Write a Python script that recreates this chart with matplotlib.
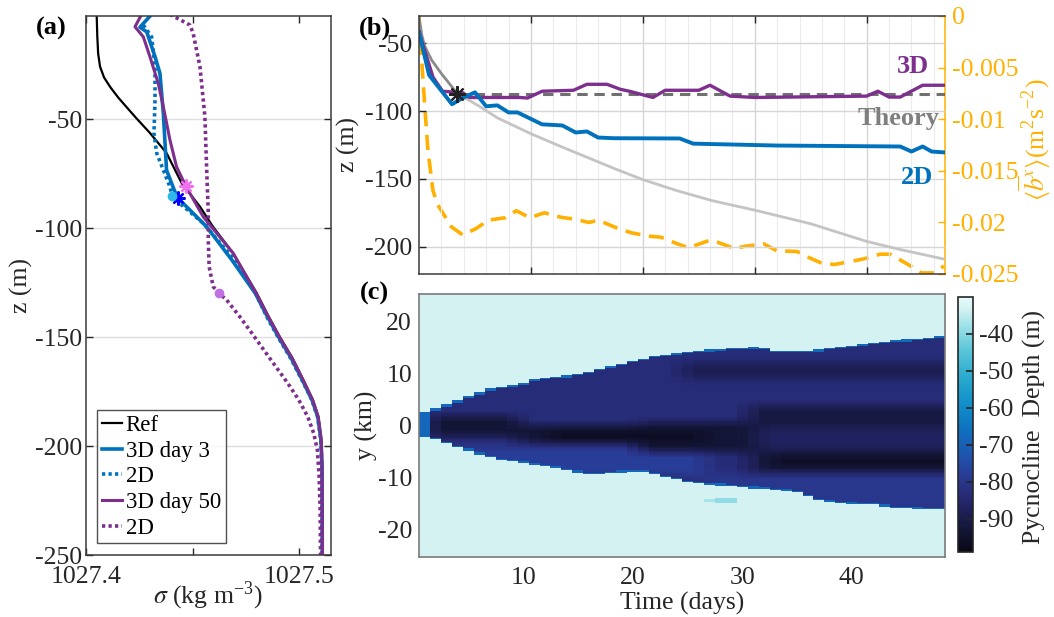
import numpy as np
import matplotlib
matplotlib.use("Agg")
import matplotlib.pyplot as plt
from matplotlib.colors import LinearSegmentedColormap, Normalize

plt.rcParams["font.family"] = ["Liberation Serif", "DejaVu Serif"]
plt.rcParams["mathtext.fontset"] = "stix"
plt.rcParams["axes.unicode_minus"] = False
FS = 18.5

# ---------------- panel (a): density profiles ----------------
sigma_ref = [1027.4050, 1027.4053, 1027.4057, 1027.4066, 1027.4085, 1027.4115, 1027.4150,
             1027.4190, 1027.4235, 1027.4300, 1027.4378, 1027.4449, 1027.4535, 1027.4596,
             1027.4690, 1027.4801, 1027.4854, 1027.4910, 1027.4971, 1027.5022, 1027.5065,
             1027.5090, 1027.5104, 1027.5108, 1027.5110]
z_ref = [-2.0, -12.0, -20.0, -26.0, -31.0, -35.5, -40.0, -44.5, -49.5, -56.4, -65.6, -79.4,
         -90.2, -99.4, -111.5, -129.8, -140.0, -150.0, -160.0, -170.0, -178.9, -186.6, -197.2,
         -209.5, -250.0]

sigma_3d_day3 = [1027.4308, 1027.4253, 1027.4285, 1027.4324, 1027.4347, 1027.4363, 1027.4378,
                 1027.4417, 1027.4441, 1027.4566, 1027.4685, 1027.4795, 1027.4848, 1027.4904,
                 1027.4965, 1027.5017, 1027.5061, 1027.5088, 1027.5103, 1027.5108, 1027.5109]
z_3d_day3 = [-2.0, -7.9, -10.0, -21.4, -29.0, -47.4, -73.4, -83.3, -87.2, -99.4, -114.7, -130.0,
             -140.0, -150.0, -160.0, -170.0, -178.9, -186.6, -197.2, -209.5, -250.0]

sigma_2d_day3 = [1027.4269, 1027.4308, 1027.4324, 1027.4324, 1027.4319, 1027.4332, 1027.4363,
                 1027.4394, 1027.4405, 1027.4449, 1027.4550, 1027.4685, 1027.4792, 1027.4845,
                 1027.4901, 1027.4962, 1027.5015, 1027.5060, 1027.5087, 1027.5102, 1027.5107,
                 1027.5108]
z_2d_day3 = [-6.9, -12.3, -26.0, -41.3, -56.6, -65.7, -73.4, -81.1, -85.3, -89.4, -97.8, -113.2,
             -129.2, -140.0, -150.0, -160.0, -170.0, -178.9, -186.6, -197.2, -209.5, -250.0]

sigma_3d_day50 = [1027.4261, 1027.4230, 1027.4269, 1027.4300, 1027.4339, 1027.4363, 1027.4394,
                  1027.4425, 1027.4468, 1027.4550, 1027.4691, 1027.4799, 1027.4852, 1027.4908,
                  1027.4969, 1027.5020, 1027.5064, 1027.5090, 1027.5104, 1027.5108, 1027.5110]
z_3d_day50 = [-2.0, -7.7, -12.3, -21.4, -33.6, -44.4, -59.6, -71.9, -80.7, -94.8, -111.6, -130.0,
              -140.0, -150.0, -160.0, -170.0, -178.9, -186.6, -197.2, -209.5, -250.0]

sigma_2d_day50 = [1027.4394, 1027.4488, 1027.4503, 1027.4535, 1027.4558, 1027.4566, 1027.4574,
                  1027.4574, 1027.4578, 1027.4597, 1027.4625, 1027.4660, 1027.4722, 1027.4779,
                  1027.4835, 1027.4891, 1027.4947, 1027.4999, 1027.5041, 1027.5069, 1027.5086,
                  1027.5094, 1027.5099, 1027.5101]
z_2d_day50 = [-2.0, -6.9, -10.7, -26.0, -48.9, -71.9, -93.3, -105.5, -117.8, -126.9, -130.0,
              -133.0, -140.7, -148.3, -156.0, -163.6, -171.2, -178.9, -186.6, -194.2, -201.8,
              -213.3, -229.4, -250.0]

pyc_3d_day3 = (1027.4433, -86.4)
pyc_2d_day3 = (1027.4405, -85.3)
pyc_3d_day50 = (1027.4468, -80.7)
pyc_2d_day50 = (1027.4625, -130.0)
legend_labels = ["Ref", "3D day 3", "2D", "3D day 50", "2D"]
sigma_ticks = [1027.4, 1027.45, 1027.5]
sigma_ticklabels = ["1027.4", "", "1027.5"]
za_ticks = [-250, -200, -150, -100, -50]

# ---------------- panel (b): pycnocline depth vs time ----------------
t_3d = [0, 1.25, 2.1, 3.9, 4.5, 9.0, 9.7, 11.0, 13.8, 15.0, 16.8, 18.0, 18.8, 20.9, 22.0, 25.0,
        26.0, 27.8, 30.0, 40.0, 41.0, 42.0, 43.0, 45.0, 47.0]
z_3d = [-42, -75, -85.4, -86.5, -90, -90, -90.4, -85.4, -84.7, -80.3, -80.3, -84, -85.4, -90,
        -84.7, -84.7, -81, -89, -90, -89, -85.4, -89.7, -89.7, -81, -81]

t_2d = [0, 0.9, 2.95, 3.9, 5.0, 6.0, 7.0, 8.0, 8.8, 11.0, 12.8, 14.0, 15.0, 16.0, 17.4, 23.3,
        24.5, 32.0, 43.0, 44.0, 45.0, 45.8, 47.0]
z_2d = [-42, -73.5, -95, -90.4, -86.2, -96.5, -95.8, -101, -101, -109.8, -110.6, -115.8, -115,
        -119.5, -120, -120.2, -124, -125.4, -126.1, -129.8, -126.1, -129.8, -130.5]

t_theory = [0, 0.25, 0.5, 1.13, 2.0, 3.42, 5.4, 7.0, 10.0, 12.5, 15.0, 17.5, 20.0, 23.0, 26.2,
            30.0, 32.0, 35.0, 40.0, 43.0, 46.9]
z_theory = [-30.7, -44, -52, -62.5, -72.4, -87.1, -96.5, -105, -116.7, -125.5, -134, -142.5,
            -150.5, -158.5, -166, -173, -177, -183, -196, -202, -209]
t_star = 3.42
z_star = -87.1
z_equilibrium = -87.1

t_b = [0, 0.24, 0.54, 0.8, 1.25, 1.67, 2.9, 3.9, 5.1, 6.2, 7.7, 8.7, 9.9, 11.2, 12.7, 13.9, 15.2,
       16.0, 17.8, 19.0, 20.5, 21.6, 23.1, 24.1, 25.9, 26.7, 28.2, 29.1, 30.8, 32.0, 33.8, 34.5,
       35.9, 37.1, 38.8, 39.8, 41.2, 42.1, 43.7, 44.9, 46.1, 46.9]
b_x = [0, -0.00428, -0.00914, -0.01304, -0.01693, -0.01829, -0.02043, -0.02121, -0.02060,
       -0.01978, -0.01955, -0.01887, -0.01955, -0.01907, -0.01951, -0.01968, -0.02001, -0.01978,
       -0.02060, -0.02101, -0.02133, -0.02143, -0.02208, -0.02246, -0.02176, -0.02193, -0.02253,
       -0.02232, -0.02208, -0.02276, -0.02282, -0.02325, -0.02391, -0.02408, -0.02374, -0.02352,
       -0.02308, -0.02308, -0.02408, -0.02490, -0.02490, -0.02422]
zb_ticks = [-200, -150, -100, -50]
b_ticks = [-0.025, -0.02, -0.015, -0.01, -0.005, 0]
b_ticklabels = ["-0.025", "-0.02", "-0.015", "-0.01", "-0.005", "0"]

# ---------------- panel (c): pycnocline depth map ----------------
days_c = list(range(1, 49))
edge_upper = [2.5, 3.3, 4.0, 4.8, 5.6, 6.3, 7.0, 7.4, 7.8, 8.2, 8.8, 9.2, 9.4, 9.5, 9.9, 10.4,
              10.9, 11.4, 11.9, 12.4, 12.9, 13.3, 13.6, 13.9, 14.1, 14.3, 14.5, 14.7, 14.8, 14.9,
              15.0, 14.8, 14.4, 14.3, 14.3, 14.4, 14.5, 14.8, 15.1, 15.4, 15.7, 15.9, 16.1, 16.3,
              16.5, 16.7, 16.9, 17.1]
edge_lower = [-2.0, -2.6, -3.4, -4.1, -4.8, -5.5, -6.1, -6.6, -6.9, -7.2, -7.5, -7.9, -8.2, -8.6,
              -9.0, -9.4, -9.4, -9.2, -9.0, -8.8, -8.9, -9.3, -9.8, -10.3, -10.8, -11.1, -11.3,
              -11.5, -11.7, -11.8, -12.0, -12.1, -12.3, -12.5, -12.8, -13.6, -14.3, -14.7, -14.9,
              -15.0, -15.1, -15.2, -15.5, -15.8, -15.9, -16.0, -16.1, -16.2]
depth_background = -33.0
depth_wedge = -83.0
depth_fringe = -68.0
# (day start, day end, y low, y high, depth) inside the cold wedge
interior_patches = [
    (4, 26, -9.5, -4.2, -78),
    (27, 48, -16, -9.5, -80),
    (1.5, 9.5, -2.0, 1.8, -93),
    (9.5, 20.5, -3.4, 0.0, -93),
    (20.5, 30.5, -5.0, 0.6, -93),
    (30.5, 48.5, -9.0, 3.8, -91),
    (32, 48.5, -4.5, -0.5, -87),
    (13, 26, -3.0, -1.2, -97),
    (33, 48.5, -8.2, -5.6, -96),
    (24.5, 48.5, 8.8, 12.0, -89),
]
exterior_patches = [
    (27, 28, -14.6, -14.2, -37),
    (28, 29, -14.8, -14.0, -39),
]
cb_ticks = [-90, -80, -70, -60, -50, -40]
depth_range = (-99.0, -30.0)

# ice-like colormap nodes (depth, rgb)
cmap_depths = [-99, -93, -88, -83, -78, -72, -66, -60, -52, -44, -37, -33, -30]
cmap_rgb = [(8, 8, 22), (20, 22, 55), (30, 32, 88), (40, 45, 122), (40, 62, 152), (28, 88, 178),
            (15, 112, 192), (15, 138, 200), (40, 168, 206), (92, 198, 216), (165, 228, 234),
            (213, 242, 243), (230, 250, 250)]

# ---------------- styles ----------------
c_blue = "#0072BD"
c_purple = "#7E2F8E"
c_orange = "#FFB000"
c_axis = "#262626"

fig = plt.figure(figsize=(10.54, 6.17), dpi=100)
W, H = 1054.0, 617.0


def rect(x0, y0, x1, y1):
    return [x0 / W, 1 - y1 / H, (x1 - x0) / W, (y1 - y0) / H]


# ================= panel (a) =================
axa = fig.add_axes(rect(86, 16, 331, 555))
axa.plot(sigma_ref, z_ref, color="k", lw=1.6, label=legend_labels[0])
axa.plot(sigma_3d_day3, z_3d_day3, color=c_blue, lw=2.6, label=legend_labels[1])
axa.plot(sigma_2d_day3, z_2d_day3, color=c_blue, lw=2.6, ls=(0, (0.9, 0.9)), label=legend_labels[2])
axa.plot(sigma_3d_day50, z_3d_day50, color=c_purple, lw=2.2, label=legend_labels[3])
axa.plot(sigma_2d_day50, z_2d_day50, color=c_purple, lw=2.6, ls=(0, (0.9, 0.9)), label=legend_labels[4])
ast = (8, 2, 0)
axa.plot(*pyc_3d_day3, marker=ast, ms=10, mew=1.6, color="#0000FF", ls="none")
axa.plot(*pyc_2d_day3, marker="o", ms=6, color="#2FB8E8", mec="#2FB8E8", ls="none")
axa.plot(*pyc_3d_day50, marker=ast, ms=10, mew=1.6, color="#F070F0", ls="none")
axa.plot(*pyc_2d_day50, marker="o", ms=6, color="#C070E0", mec="#C070E0", ls="none")
axa.set_xlim(1027.4, 1027.515)
axa.set_ylim(-250, -2.75)
axa.set_xticks(sigma_ticks)
axa.set_xticklabels(sigma_ticklabels)
axa.set_yticks(za_ticks)
axa.grid(axis="y", color="#dedede", lw=1.0)
axa.set_axisbelow(True)
axa.tick_params(direction="in", length=5, width=1, colors=c_axis, labelsize=FS,
                top=True, right=True)
axa.tick_params(axis="x", pad=8)
axa.tick_params(axis="y", pad=3)
for s in axa.spines.values():
    s.set_color("#3a3a3a")
    s.set_linewidth(1.1)
axa.set_ylabel("z (m)", fontsize=FS, color=c_axis, va="center", ha="center")
axa.yaxis.set_label_coords(-0.265, 0.5)
axa.set_xlabel(r"$\sigma$ (kg m$^{\mathregular{-3}}$)", fontsize=FS, color=c_axis,
               va="center", ha="center")
axa.xaxis.set_label_coords(0.5, -0.076)
leg = axa.legend(loc="lower left", bbox_to_anchor=(0.045, 0.022), borderaxespad=0,
                 fontsize=16.5, handlelength=0.9, handletextpad=0.15, labelspacing=0.2,
                 borderpad=0.2, frameon=True, fancybox=False)
leg.get_frame().set_edgecolor(c_axis)
leg.get_frame().set_linewidth(1.0)

# ================= panel (b) =================
axb = fig.add_axes(rect(419, 16, 945, 274))
axb2 = axb.twinx()
axb2.plot(t_b, b_x, color=c_orange, lw=2.6, ls=(0, (4.2, 2.4)))
axb2.set_ylim(-0.025, 0)
axb2.set_yticks(b_ticks)
axb2.set_yticklabels(b_ticklabels)
axb2.tick_params(direction="in", length=5, width=1, colors=c_orange, labelsize=FS, pad=5)
axb2.spines["right"].set_color(c_orange)
axb2.spines["right"].set_linewidth(1.1)
for k in ("left", "top", "bottom"):
    axb2.spines[k].set_visible(False)
axb2.set_ylabel(r"$\langle\overline{b}^{x}\rangle$(m$^{\mathregular{2}}$s$^{\mathregular{-2}}$)",
                fontsize=FS, color=c_orange, va="center", ha="center")
axb2.yaxis.set_label_coords(1.17, 0.52)

axb.set_zorder(axb2.get_zorder() + 1)
axb.patch.set_visible(False)
t_th = np.array(t_theory)
z_th = np.array(z_theory)
early = t_th <= t_star
late = t_th >= t_star
axb.plot(t_th[late], z_th[late], color="#C4C4C4", lw=2.0)
axb.plot(t_th[early], z_th[early], color="#8A8A8A", lw=2.0)
axb.plot([t_star, 47], [z_equilibrium, z_equilibrium], color="#707070", lw=2.2, ls=(0, (3.4, 2.2)))
axb.plot(t_3d, z_3d, color=c_purple, lw=2.4)
axb.plot(t_2d, z_2d, color=c_blue, lw=2.8)
axb.plot(t_star, z_star, marker=ast, ms=12, mew=1.5, color="#222222", ls="none")
axb.text(45.6, -72.0, "3D", color=c_purple, fontsize=19, fontweight="bold", ha="right", va="baseline")
axb.text(46.5, -110.6, "Theory", color="#7F7F7F", fontsize=19, fontweight="bold", ha="right",
         va="baseline")
axb.text(45.9, -153.4, "2D", color=c_blue, fontsize=19, fontweight="bold", ha="right", va="baseline")
axb.set_xlim(0, 47)
axb.set_ylim(-220, -30)
axb.set_xticks([10, 20, 30, 40])
axb.set_xticks(np.arange(2, 47, 2), minor=True)
axb.set_xticklabels([])
axb.set_yticks(zb_ticks)
axb.grid(which="major", color="#d6d6d6", lw=1.0)
axb.grid(which="minor", axis="x", color="#ececec", lw=0.8)
axb.tick_params(direction="in", length=5, width=1, colors=c_axis, labelsize=FS, pad=5, top=True)
axb.tick_params(which="minor", length=0)
axb.tick_params(axis="y", right=False)
for k in ("left", "top", "bottom"):
    axb.spines[k].set_color("#3a3a3a")
    axb.spines[k].set_linewidth(1.1)
axb.spines["right"].set_visible(False)
axb.set_ylabel("z (m)", fontsize=FS, color=c_axis, va="center", ha="center")
axb.yaxis.set_label_coords(-0.135, 0.5)

# ================= panel (c) =================
axc = fig.add_axes(rect(419, 294, 945, 557))
y_c = np.arange(-25.5, 25.51, 0.25)
D, Y = np.meshgrid(np.array(days_c, float), y_c)
up = np.array(edge_upper)[None, :]
lo = np.array(edge_lower)[None, :]
inside = (Y <= up) & (Y >= lo)

interior = np.full(D.shape, depth_wedge)
for d0, d1, ylo, yhi, val in interior_patches:
    m = (D >= d0) & (D <= d1) & (Y >= ylo) & (Y <= yhi)
    interior[m] = val
# soften the interior structure (box average over +-1 day, +-1 km)
acc = np.zeros_like(interior)
n = 0
pad = np.pad(interior, ((4, 4), (1, 1)), mode="edge")
for dy in range(9):
    for dx in range(3):
        acc += pad[dy:dy + interior.shape[0], dx:dx + interior.shape[1]]
        n += 1
interior = acc / n

field = np.full(D.shape, depth_background)
for d0, d1, ylo, yhi, val in exterior_patches:
    m = (D >= d0) & (D <= d1) & (Y >= ylo) & (Y <= yhi)
    field[m] = val
field[inside] = interior[inside]
fringe = inside & (((up - Y) < 0.3) | ((Y - lo) < 0.3))
field[fringe] = depth_fringe
field[:, 0] = np.where(inside[:, 0], depth_fringe, field[:, 0])

vmin, vmax = depth_range
nodes = [((d - vmin) / (vmax - vmin), tuple(c / 255.0 for c in rgb)) for d, rgb in zip(cmap_depths, cmap_rgb)]
cmap = LinearSegmentedColormap.from_list("ice_like", nodes)
im = axc.imshow(field, origin="lower", aspect="auto", interpolation="nearest", cmap=cmap,
                norm=Normalize(vmin, vmax),
                extent=[0.5, 48.5, y_c[0] - 0.125, y_c[-1] + 0.125])
axc.set_xlim(0.5, 48.5)
axc.set_ylim(-25.3, 25.3)
axc.set_xticks([10, 20, 30, 40])
axc.set_yticks([-20, -10, 0, 10, 20])
axc.tick_params(length=0, colors=c_axis, labelsize=FS)
axc.tick_params(axis="x", pad=7)
axc.tick_params(axis="y", pad=5)
for s in axc.spines.values():
    s.set_color("#7a7a7a")
    s.set_linewidth(1.2)
axc.set_ylabel("y (km)", fontsize=FS, color=c_axis, va="center", ha="center")
axc.yaxis.set_label_coords(-0.1, 0.5)
axc.set_xlabel("Time (days)", fontsize=FS, color=c_axis, va="center", ha="center")
axc.xaxis.set_label_coords(0.5, -0.175)

cax = fig.add_axes(rect(958, 297, 973, 552))
cb = fig.colorbar(im, cax=cax)
cb.set_ticks(cb_ticks)
cb.set_ticklabels([str(v) for v in cb_ticks])
cax.tick_params(direction="in", length=5, width=1.2, colors=c_axis, labelsize=FS, pad=4)
cb.outline.set_edgecolor(c_axis)
cb.outline.set_linewidth(1.2)
cb.set_label("Pycnocline  Depth (m)", fontsize=FS, color=c_axis, va="center", ha="center")
cax.yaxis.set_label_coords(5.1, 0.49)

# panel letters
fig.text(51 / W, 1 - 28 / H, "(a)", fontsize=19, fontweight="bold", ha="center", va="center")
fig.text(375 / W, 1 - 28 / H, "(b)", fontsize=19, fontweight="bold", ha="center", va="center")
fig.text(374 / W, 1 - 293 / H, "(c)", fontsize=19, fontweight="bold", ha="center", va="center")

fig.savefig("out.png", dpi=100)
